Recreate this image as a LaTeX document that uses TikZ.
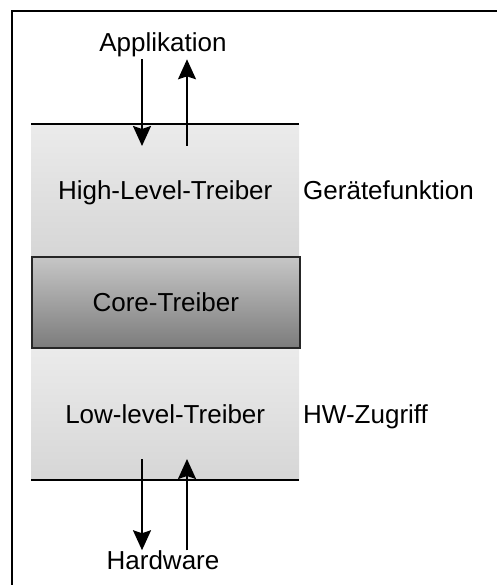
\documentclass[tikz,border=0pt]{standalone}
\usepackage{fontspec}
\setmainfont{Liberation Sans}
\usetikzlibrary{arrows.meta}
\definecolor{layerlight}{HTML}{EBEBEB}
\definecolor{layerdark}{HTML}{D6D6D6}
\definecolor{corelight}{HTML}{C6C6C6}
\definecolor{coredark}{HTML}{7C7C7C}
\begin{document}
\begin{tikzpicture}[x=1pt,y=-1pt,
  every node/.style={font=\fontsize{26}{31}\selectfont, text=black},
  layer/.style={anchor=north west, minimum width=268pt, inner sep=0pt,
    text height=19pt, text depth=0pt, top color=layerlight, bottom color=layerdark},
  corebox/.style={layer, top color=corelight, bottom color=coredark,
    draw=black!85, line width=1.6pt},
  sidelabel/.style={anchor=base west, inner sep=0pt},
  endlabel/.style={inner sep=2pt},
  rule/.style={line width=2pt, black},
  flow/.style={line width=1.9pt, -{Stealth[length=20pt, width=18pt, inset=3pt]}}
]
\useasboundingbox (0,0) rectangle (497,585);

% frame
\draw[rule] (12,585) -- (12,11) -- (497,11);

% driver layers
\node[layer, minimum height=132pt] (high) at (31,124) {High-Level-Treiber};
\node[layer, minimum height=133pt] (low) at (31,347) {Low-level-Treiber};
\node[corebox, minimum height=91pt] (core) at (31,256) {Core-Treiber};
\draw[rule] (high.north west) -- (high.north east);
\draw[rule] (low.south west) -- (low.south east);

% side labels
\node[sidelabel] (func) at (303,200) {Gerätefunktion};
\node[sidelabel] (hwz) at (303,423) {HW-Zugriff};

% end points
\node[endlabel] (app) at (163,45) {Applikation};
\node[endlabel] (hw) at (163,560) {Hardware};

% data flow
\coordinate (hdown) at (142,146);
\coordinate (hup) at (187,146);
\coordinate (ldown) at (142,459);
\coordinate (lup) at (187,459);
\draw[flow] (app.south -| hdown) -- (hdown);
\draw[flow] (hup) -- (app.south -| hup);
\draw[flow] (ldown) -- ([yshift=-2pt]hw.north -| ldown);
\draw[flow] ([yshift=-2pt]hw.north -| lup) -- (lup);
\end{tikzpicture}
\end{document}
